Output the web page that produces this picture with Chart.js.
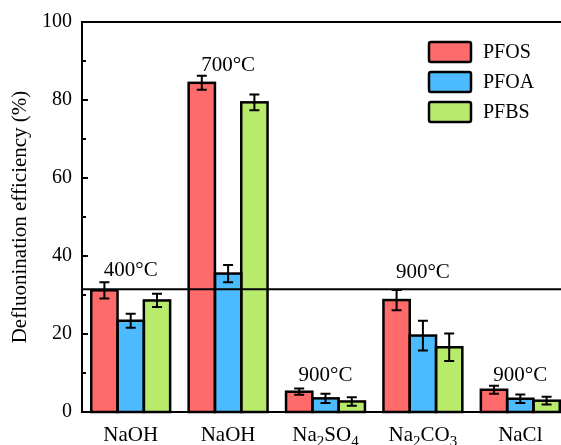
<!DOCTYPE html>
<html><head><meta charset="utf-8">
<style>html,body{margin:0;padding:0;background:#fff;overflow:hidden;}canvas{display:block;}</style>
<script src="https://cdn.jsdelivr.net/npm/chart.js@4.4.0/dist/chart.umd.min.js"></script>
</head><body>
<canvas id="c" width="569" height="445"></canvas>
<script>
// ---- data ----
const categories = ['NaOH', 'NaOH', 'Na2SO4', 'Na2CO3', 'NaCl'];
const seriesNames = ['PFOS', 'PFOA', 'PFBS'];
const pfos = [31.2, 84.4, 5.2, 28.7, 5.7];
const pfoa = [23.4, 35.5, 3.5, 19.6, 3.4];
const pfbs = [28.6, 79.4, 2.7, 16.6, 2.9];
const pfosErr = [2.1, 1.8, 0.8, 2.6, 1.0];
const pfoaErr = [1.8, 2.2, 1.2, 3.8, 1.1];
const pfbsErr = [1.7, 2.0, 1.1, 3.5, 1.0];
const tempLabels = ['400°C', '700°C', '900°C', '900°C', '900°C'];
const tempLabelLevel = [36.3, 88.8, 9.3, 35.7, 9.3];
const refLevel = 31.5;
const yTickLabels = [0, 20, 40, 60, 80, 100];
const yTitle = 'Defluonination efficiency (%)';

// ---- styles ----
const FONT = "'Liberation Serif', 'Times New Roman', serif";
const colors = ['#FF6B6B', '#4DBBFF', '#B8EB6B'];
const values = [pfos, pfoa, pfbs];
const errors = [pfosErr, pfoaErr, pfbsErr];

const decorPlugin = {
  id: 'decor',
  afterDatasetsDraw(chart) {
    const ctx = chart.ctx;
    const ca = chart.chartArea;
    const ys = chart.scales.y, xs = chart.scales.x;
    ctx.save();
    // bar outlines
    ctx.strokeStyle = '#000';
    ctx.lineWidth = 2.5;
    chart.data.datasets.forEach((ds, i) => {
      chart.getDatasetMeta(i).data.forEach(el => {
        const p = el.getProps(['x', 'y', 'base', 'width'], true);
        ctx.strokeRect(p.x - p.width / 2, p.y, p.width, p.base - p.y);
      });
    });
    // error bars
    ctx.lineWidth = 2;
    chart.data.datasets.forEach((ds, i) => {
      chart.getDatasetMeta(i).data.forEach((el, j) => {
        const v = ds.data[j], e = errors[i][j];
        const x = el.x;
        const yt = ys.getPixelForValue(v + e), yb = ys.getPixelForValue(v - e);
        ctx.beginPath();
        ctx.moveTo(x, yt); ctx.lineTo(x, yb);
        ctx.moveTo(x - 5, yt); ctx.lineTo(x + 5, yt);
        ctx.moveTo(x - 5, yb); ctx.lineTo(x + 5, yb);
        ctx.stroke();
      });
    });
    // reference line
    const yr = ys.getPixelForValue(refLevel);
    ctx.beginPath(); ctx.moveTo(ca.left, yr); ctx.lineTo(ca.right, yr); ctx.stroke();
    // top spine
    ctx.beginPath(); ctx.moveTo(ca.left - 1, ca.top); ctx.lineTo(ca.right, ca.top); ctx.stroke();
    // inward y ticks
    for (let v = 0; v <= 100; v += 10) {
      const y = ys.getPixelForValue(v);
      const len = (v % 20 === 0) ? 6 : 4;
      ctx.beginPath(); ctx.moveTo(ca.left, y); ctx.lineTo(ca.left + len, y); ctx.stroke();
    }
    // temperature labels
    ctx.fillStyle = '#000';
    ctx.font = '21px ' + FONT;
    ctx.textAlign = 'center';
    ctx.textBaseline = 'middle';
    tempLabels.forEach((t, i) => {
      ctx.fillText(t, xs.getPixelForValue(i), ys.getPixelForValue(tempLabelLevel[i]));
    });
    // x category labels with subscripts
    categories.forEach((lab, i) => {
      const parts = lab.match(/[A-Za-z]+|\d+/g);
      const big = '21px ' + FONT, small = '15px ' + FONT;
      let w = 0;
      parts.forEach(p => { ctx.font = /\d/.test(p) ? small : big; w += ctx.measureText(p).width; });
      let x = xs.getPixelForValue(i) - w / 2;
      const base = 440.5;
      ctx.textAlign = 'left';
      ctx.textBaseline = 'alphabetic';
      parts.forEach(p => {
        const sub = /\d/.test(p);
        ctx.font = sub ? small : big;
        ctx.fillText(p, x, sub ? base + 5 : base);
        x += ctx.measureText(p).width;
      });
    });
    // legend
    const lx = ca.right - 140;
    seriesNames.forEach((n, i) => {
      const cy = 52 + i * 30;
      ctx.fillStyle = colors[i];
      ctx.fillRect(lx, cy - 10, 42, 20);
      ctx.lineWidth = 2.5;
      ctx.strokeStyle = '#000';
      ctx.beginPath();
      if (ctx.roundRect) ctx.roundRect(lx, cy - 10, 42, 20, 2); else ctx.rect(lx, cy - 10, 42, 20);
      ctx.stroke();
      ctx.fillStyle = '#000';
      ctx.font = '20px ' + FONT;
      ctx.textAlign = 'left';
      ctx.textBaseline = 'middle';
      ctx.fillText(n, lx + 54, cy + 1);
    });
    ctx.restore();
  }
};

new Chart(document.getElementById('c'), {
  type: 'bar',
  data: {
    labels: categories,
    datasets: seriesNames.map((n, i) => ({
      label: n,
      data: values[i],
      backgroundColor: colors[i],
      borderWidth: 0,
      categoryPercentage: 0.81,
      barPercentage: 1.0
    }))
  },
  options: {
    responsive: false,
    animation: false,
    devicePixelRatio: 1,
    layout: { padding: { top: 19, right: 0, bottom: 0, left: 0 } },
    plugins: { legend: { display: false }, tooltip: { enabled: false } },
    scales: {
      x: {
        offset: true,
        grid: { display: false, drawTicks: false },
        border: { display: true, width: 2, color: '#000' },
        ticks: { display: false },
        afterFit(s) { s.height = 33; }
      },
      y: {
        min: 0, max: 100,
        ticks: {
          stepSize: 10,
          autoSkip: false,
          callback: v => yTickLabels.includes(v) ? String(v) : '',
          padding: 10,
          color: '#000',
          font: { family: FONT, size: 20 }
        },
        grid: { display: false, drawTicks: false },
        border: { display: true, width: 2, color: '#000' },
        title: {
          display: true, text: yTitle, color: '#000',
          font: { family: FONT, size: 21 },
          padding: { top: 8, bottom: 0 }
        },
        afterFit(s) { s.width = 82; }
      }
    }
  },
  plugins: [decorPlugin]
});
</script>
</body></html>
